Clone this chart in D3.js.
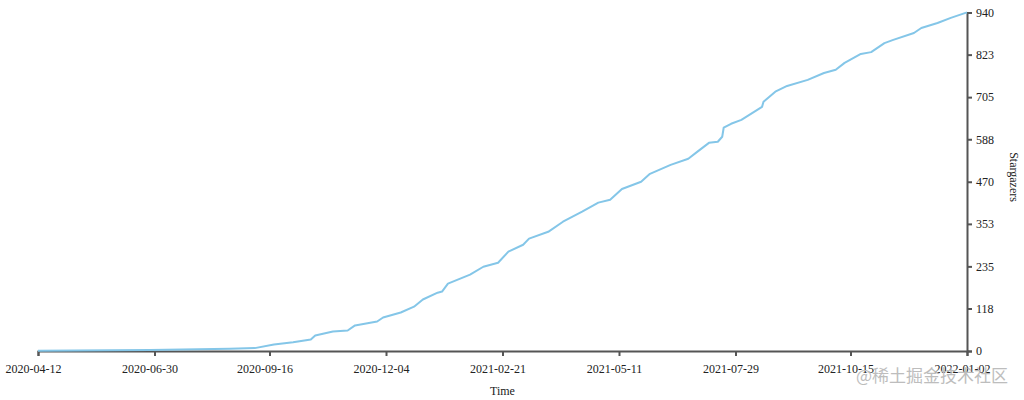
<!DOCTYPE html>
<html>
<head>
<meta charset="utf-8">
<script src="https://cdnjs.cloudflare.com/ajax/libs/d3/7.8.5/d3.min.js"></script>
<style>
	body { margin: 0; background: #fff; }
	svg { display: block; font-family: 'Liberation Serif', 'Times New Roman', serif; }
	.axis path, .axis line { stroke: #555; stroke-width: 2; }
	.axis text { fill: #222; font-size: 12px; font-family: 'Liberation Serif', 'Times New Roman', serif; }
	.label { fill: #222; font-size: 12px; }
	.watermark { font-family: 'Noto Sans CJK SC', sans-serif; font-size: 17px; fill: #bdbdbd; }
</style>
</head>
<body>
<div id="chart"></div>
<script>
// Stargazers over time

var dates = [
	'2020-04-12', '2020-06-27', '2020-08-20', '2020-09-06', '2020-09-19', '2020-10-02',
	'2020-10-14', '2020-10-17', '2020-10-29', '2020-11-08', '2020-11-13', '2020-11-28',
	'2020-12-02', '2020-12-14', '2020-12-23', '2020-12-29', '2021-01-08', '2021-01-11',
	'2021-01-15', '2021-01-30', '2021-02-08', '2021-02-18', '2021-02-25', '2021-03-07',
	'2021-03-11', '2021-03-24', '2021-04-03', '2021-04-16', '2021-04-27', '2021-05-05',
	'2021-05-13', '2021-05-26', '2021-06-01', '2021-06-15', '2021-06-27', '2021-07-03',
	'2021-07-11', '2021-07-17', '2021-07-20', '2021-07-21', '2021-07-26', '2021-08-02',
	'2021-08-16', '2021-08-17', '2021-08-25', '2021-09-02', '2021-09-16', '2021-09-27',
	'2021-10-05', '2021-10-11', '2021-10-22', '2021-10-29', '2021-11-07', '2021-11-13',
	'2021-11-27', '2021-12-02', '2021-12-13', '2021-12-22', '2022-01-01', '2022-01-02'
];

var stars = [
	1, 3, 6, 8, 18, 24,
	32, 43, 54, 57, 71, 82,
	93, 107, 123, 143, 162, 165,
	187, 212, 234, 245, 276, 295,
	312, 331, 359, 387, 412, 420,
	450, 470, 492, 517, 534, 553,
	578, 581, 595, 620, 631, 642,
	678, 692, 720, 736, 753, 772,
	781, 800, 825, 830, 855, 864,
	883, 897, 911, 925, 939, 940
];

var timeTicks = ['2020-04-12', '2020-06-30', '2020-09-16', '2020-12-04', '2021-02-21',
	'2021-05-11', '2021-07-29', '2021-10-15', '2022-01-02'];
var starTicks = [0, 118, 235, 353, 470, 588, 705, 823, 940];

var width = 1024,
	height = 400,
	margin = {top: 12.5, right: 57, bottom: 49, left: 38};

var parse = d3.timeParse('%Y-%m-%d'),
	format = d3.timeFormat('%Y-%m-%d');

var data = dates.map(function(d, i) { return {date: parse(d), value: stars[i]}; });

var svg = d3.select('#chart').append('svg')
	.attr('width', width)
	.attr('height', height);

var x = d3.scaleTime()
	.domain([parse(timeTicks[0]), parse(timeTicks[timeTicks.length - 1])])
	.range([margin.left, width - margin.right]);

var y = d3.scaleLinear()
	.domain([0, starTicks[starTicks.length - 1]])
	.range([height - margin.bottom, margin.top]);

// Axes
svg.append('g')
	.attr('class', 'axis')
	.attr('transform', 'translate(0,' + (height - margin.bottom) + ')')
	.call(d3.axisBottom(x)
		.tickValues(timeTicks.map(parse))
		.tickFormat(format)
		.tickSize(5)
		.tickPadding(8))
	.selectAll('.tick text')
	.attr('dx', -5);

svg.append('g')
	.attr('class', 'axis')
	.attr('transform', 'translate(' + (width - margin.right) + ',0)')
	.call(d3.axisRight(y)
		.tickValues(starTicks)
		.tickSize(5)
		.tickPadding(4));

// Line
var line = d3.line()
	.x(function(d) { return x(d.date); })
	.y(function(d) { return y(d.value); });

svg.append('path')
	.datum(data)
	.attr('fill', 'none')
	.attr('stroke', '#84c6e8')
	.attr('stroke-width', 2)
	.attr('stroke-linejoin', 'round')
	.attr('d', line);

// Axis titles
svg.append('text')
	.attr('class', 'label')
	.attr('x', (margin.left + width - margin.right) / 2)
	.attr('y', 395)
	.attr('text-anchor', 'middle')
	.text('Time');

svg.append('text')
	.attr('class', 'label')
	.attr('transform', 'translate(1010,177) rotate(90)')
	.attr('text-anchor', 'middle')
	.text('Stargazers');

svg.append('text')
	.attr('class', 'watermark')
	.attr('x', 1008)
	.attr('y', 382)
	.attr('text-anchor', 'end')
	.text('@稀土掘金技术社区');
</script>
</body>
</html>
